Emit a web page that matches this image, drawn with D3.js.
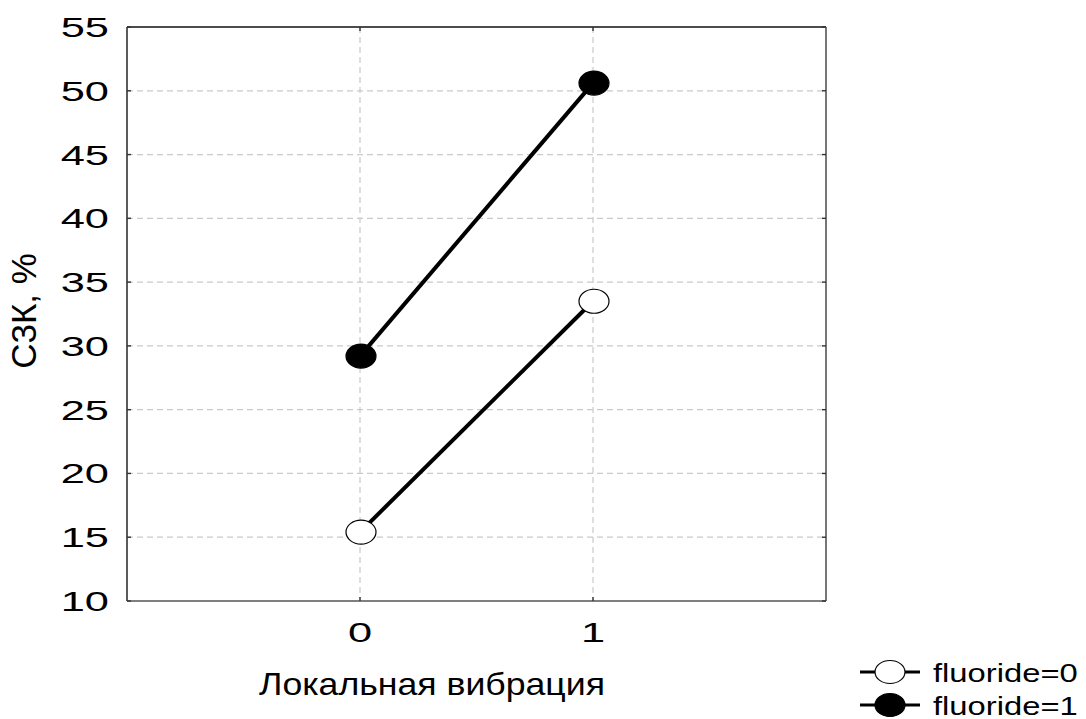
<!DOCTYPE html>
<html>
<head>
<meta charset="utf-8">
<script src="https://cdn.jsdelivr.net/npm/d3@7"></script>
<style>
  html, body { margin: 0; padding: 0; background: #fff; }
  svg { display: block; }
  text { font-family: "Liberation Sans", Arial, sans-serif; fill: #000; }
</style>
</head>
<body>
<svg id="chart" width="1086" height="719"></svg>
<script>
// Levels of the factor on the x axis
const categories = [0, 1];
// Group means (С3К, %) for each fluoride group
const fluoride0 = [15.4, 33.5];
const fluoride1 = [29.2, 50.6];
const seriesNames = ["fluoride=0", "fluoride=1"];
const yTicks = [10, 15, 20, 25, 30, 35, 40, 45, 50, 55];
const xTitle = "Локальная вибрация";
const yTitle = "С3К, %";

const svg = d3.select("#chart");
const margin = { left: 127, right: 260, top: 27, bottom: 118 };
const W = 1086, H = 719;
const x0 = margin.left, x1 = W - margin.right, y0 = margin.top, y1 = H - margin.bottom;

const x = d3.scaleLinear().domain([-1, 2]).range([x0, x1]);
const y = d3.scaleLinear().domain([10, 55]).range([y1, y0]);

// Dashed grid
const grid = svg.append("g").attr("stroke", "#cacaca").attr("stroke-width", 1.2)
  .attr("stroke-dasharray", "6,4").attr("fill", "none");
grid.selectAll("line.h").data(yTicks.filter(v => v > 10 && v < 55)).join("line")
  .attr("x1", x0).attr("x2", x1).attr("y1", d => y(d)).attr("y2", d => y(d));
grid.selectAll("line.v").data(categories).join("line")
  .attr("x1", d => x(d)).attr("x2", d => x(d)).attr("y1", y0).attr("y2", y1);

// Frame
const frame = svg.append("g").attr("fill", "none").attr("stroke-width", 1.6);
frame.append("line").attr("x1", x0).attr("x2", x1).attr("y1", y0).attr("y2", y0).attr("stroke", "#111");
frame.append("line").attr("x1", x0).attr("x2", x0).attr("y1", y0).attr("y2", y1).attr("stroke", "#333");
frame.append("line").attr("x1", x1).attr("x2", x1).attr("y1", y0).attr("y2", y1).attr("stroke", "#555");
frame.append("line").attr("x1", x0).attr("x2", x1).attr("y1", y1).attr("y2", y1).attr("stroke", "#555");

// Inward tick marks on all four sides
const ticks = svg.append("g").attr("stroke", "#333").attr("stroke-width", 1.4);
yTicks.forEach(v => {
  ticks.append("line").attr("x1", x0).attr("x2", x0 + 4).attr("y1", y(v)).attr("y2", y(v));
  ticks.append("line").attr("x1", x1).attr("x2", x1 - 4).attr("y1", y(v)).attr("y2", y(v));
});
categories.forEach(c => {
  ticks.append("line").attr("x1", x(c)).attr("x2", x(c)).attr("y1", y1).attr("y2", y1 - 4);
  ticks.append("line").attr("x1", x(c)).attr("x2", x(c)).attr("y1", y0).attr("y2", y0 + 4);
});

// Text helper with horizontal stretch
function label(g, tx, ty, str, size, sx, anchor) {
  return g.append("text")
    .attr("transform", `translate(${tx},${ty}) scale(${sx},1)`)
    .attr("text-anchor", anchor)
    .attr("font-size", size)
    .text(str);
}

// Y tick labels
const yl = svg.append("g");
yTicks.forEach(v => label(yl, 109, y(v) + 10, v, 28, 1.55, "end"));

// X tick labels
const xl = svg.append("g");
categories.forEach(c => label(xl, x(c), 642, c, 28, 1.55, "middle"));

// Axis titles
label(svg, 432, 695, xTitle, 31, 1.15, "middle");
svg.append("text")
  .attr("transform", `translate(36,311) rotate(-90)`)
  .attr("text-anchor", "middle").attr("font-size", 35).text(yTitle);

// Series
const series = [
  { name: seriesNames[0], values: fluoride0, fill: "#fff" },
  { name: seriesNames[1], values: fluoride1, fill: "#000" }
];
const line = d3.line().x((d, i) => x(categories[i])).y(d => y(d));
series.forEach(s => {
  svg.append("path").datum(s.values).attr("d", line)
    .attr("fill", "none").attr("stroke", "#000").attr("stroke-width", 4);
  svg.selectAll(null).data(s.values).join("ellipse")
    .attr("cx", (d, i) => x(categories[i]) + 1).attr("cy", d => y(d))
    .attr("rx", 15).attr("ry", 12)
    .attr("fill", s.fill).attr("stroke", "#000").attr("stroke-width", 1.2);
});

// Legend
const leg = svg.append("g");
series.forEach((s, i) => {
  const ly = 672 + i * 33;
  leg.append("line").attr("x1", 860).attr("x2", 920).attr("y1", ly).attr("y2", ly)
    .attr("stroke", "#000").attr("stroke-width", 3);
  leg.append("ellipse").attr("cx", 890).attr("cy", ly).attr("rx", 15).attr("ry", 11.5)
    .attr("fill", s.fill).attr("stroke", "#000").attr("stroke-width", 1.2);
  label(leg, 933, ly + 9.5, s.name, 26, 1.26, "start");
});
</script>
</body>
</html>
